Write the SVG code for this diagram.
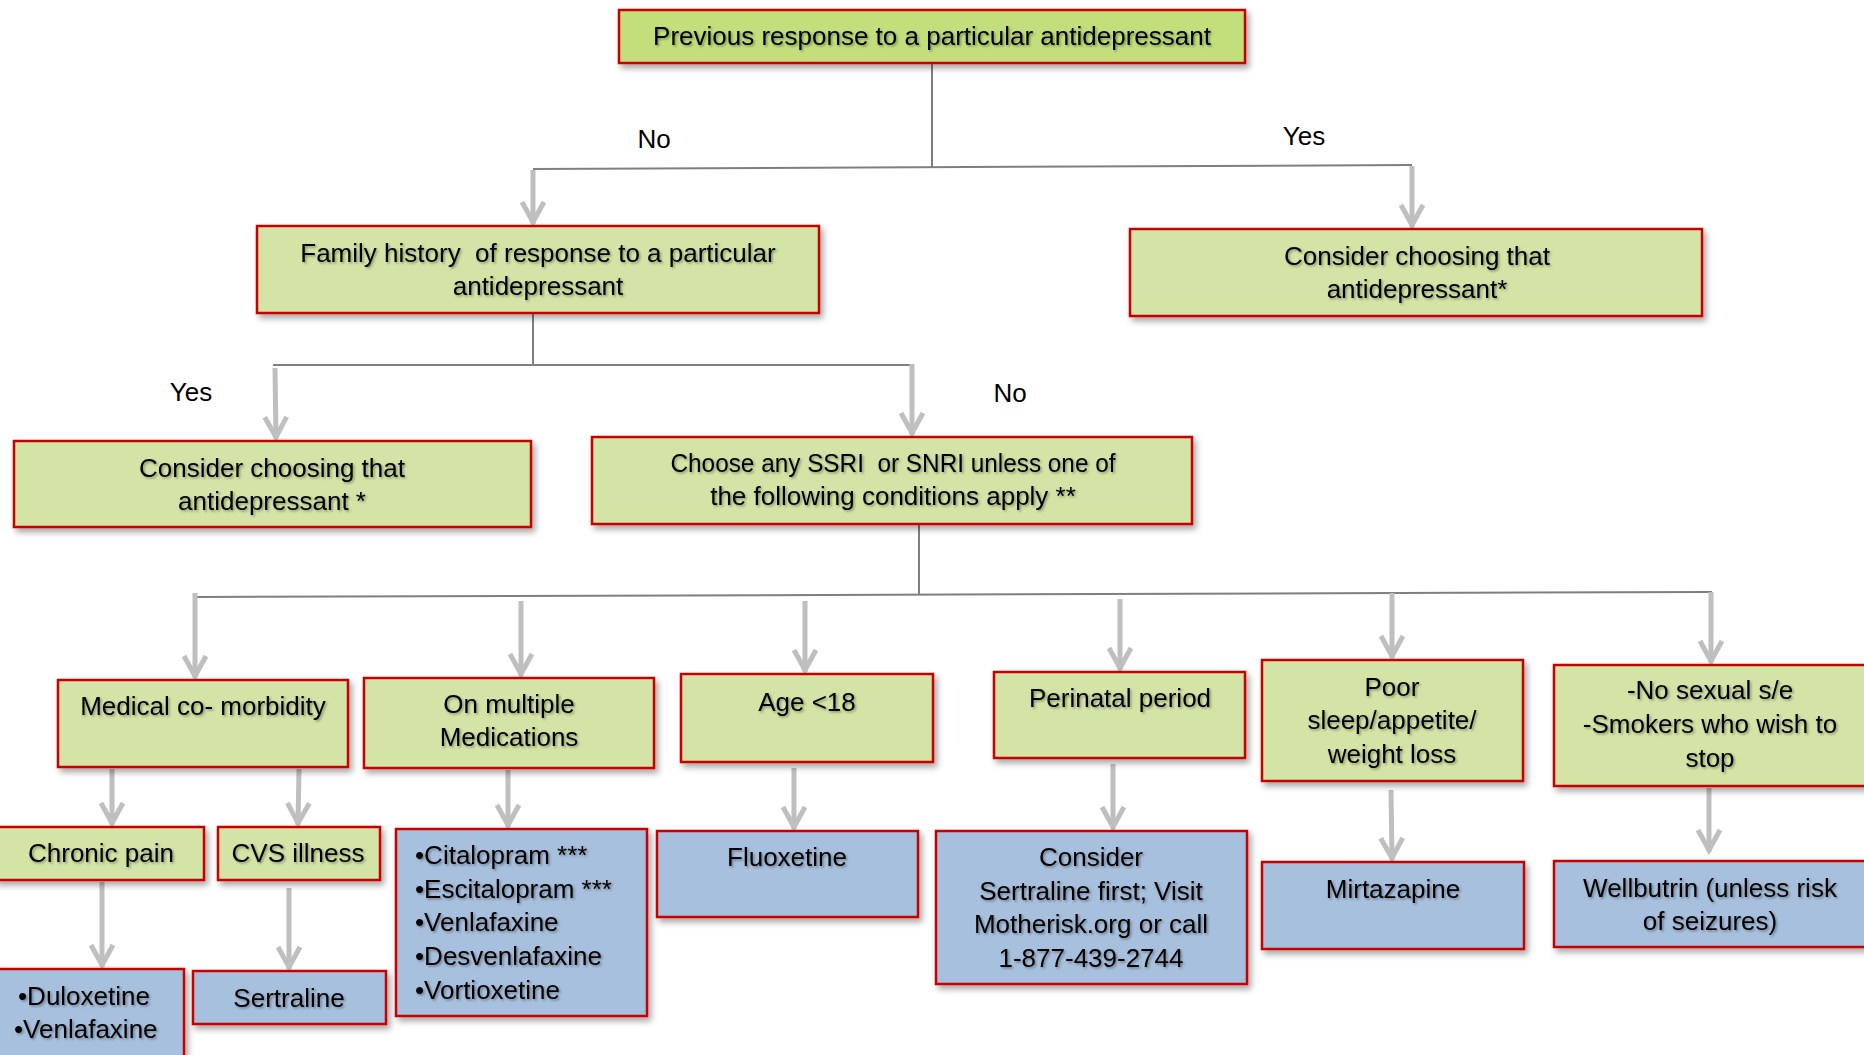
<svg xmlns="http://www.w3.org/2000/svg" width="1864" height="1055" viewBox="0 0 1864 1055">
  <defs>
    <filter id="boxShadow" x="-5%" y="-10%" width="115%" height="130%">
      <feDropShadow dx="3" dy="4" stdDeviation="3" flood-color="#000" flood-opacity="0.35"/>
    </filter>
    <filter id="txtShadow" x="-5%" y="-20%" width="110%" height="150%">
      <feDropShadow dx="1.5" dy="1.5" stdDeviation="1" flood-color="#000" flood-opacity="0.35"/>
    </filter>
    <marker id="head" markerUnits="userSpaceOnUse" markerWidth="40" markerHeight="40" viewBox="-30 -20 40 40" refX="0" refY="0" orient="auto" overflow="visible">
      <path d="M-22,-11 L-2,0 L-22,11" fill="none" stroke="#bfbfbf" stroke-width="5"/>
    </marker>
    <style>
      .bx { stroke: #c80000; stroke-width: 2.5; filter: url(#boxShadow); }
      .q { fill: #d3e4a6; }
      .top { fill: #c3df7c; }
      .r { fill: #a7c0dd; }
      .t { font-family: "Liberation Sans", Arial, sans-serif; font-size: 26px; fill: #000; filter: url(#txtShadow); white-space: pre; }
      .c { text-anchor: middle; }
      .lbl { font-family: "Liberation Sans", Arial, sans-serif; font-size: 26px; fill: #000; text-anchor: middle; }
      .ln { stroke: #7f7f7f; stroke-width: 2; fill: none; }
      .ar { stroke: #bfbfbf; stroke-width: 5; fill: none; marker-end: url(#head); }
    </style>
  </defs>

  <rect width="1864" height="1055" fill="#fff"/>

  <!-- connectors -->
  <g id="connectors">
    <line class="ln" x1="932" y1="63" x2="932" y2="168"/>
    <line class="ln" x1="533" y1="169" x2="1412" y2="165"/>
    <line class="ar" x1="533" y1="170" x2="533" y2="224"/>
    <line class="ar" x1="1412" y1="166" x2="1412" y2="227"/>

    <line class="ln" x1="533" y1="313" x2="533" y2="365"/>
    <line class="ln" x1="273" y1="365" x2="912" y2="365"/>
    <line class="ar" x1="275" y1="368" x2="276" y2="439"/>
    <line class="ar" x1="912" y1="364" x2="912" y2="435"/>

    <line class="ln" x1="919" y1="524" x2="919" y2="595"/>
    <line class="ln" x1="196" y1="597" x2="1712" y2="592"/>
    <line class="ar" x1="195" y1="593" x2="195" y2="678"/>
    <line class="ar" x1="521" y1="601" x2="521" y2="676"/>
    <line class="ar" x1="805" y1="601" x2="805" y2="672"/>
    <line class="ar" x1="1120" y1="599" x2="1120" y2="670"/>
    <line class="ar" x1="1392" y1="593" x2="1392" y2="658"/>
    <line class="ar" x1="1711" y1="592" x2="1711" y2="663"/>

    <line class="ar" x1="112" y1="769" x2="112" y2="825"/>
    <line class="ar" x1="299" y1="769" x2="298" y2="825"/>
    <line class="ar" x1="508" y1="770" x2="508" y2="827"/>
    <line class="ar" x1="794" y1="768" x2="794" y2="829"/>
    <line class="ar" x1="1113" y1="764" x2="1113" y2="829"/>
    <line class="ar" x1="1391" y1="790" x2="1392" y2="860"/>
    <line class="ar" x1="1709" y1="788" x2="1709" y2="852"/>

    <line class="ar" x1="102" y1="882" x2="102" y2="967"/>
    <line class="ar" x1="289" y1="888" x2="289" y2="969"/>
  </g>

  <!-- branch labels -->
  <g id="labels">
    <text class="lbl" x="654" y="148">No</text>
    <text class="lbl" x="1304" y="145">Yes</text>
    <text class="lbl" x="191" y="401">Yes</text>
    <text class="lbl" x="1010" y="402">No</text>
  </g>

  <g id="n-previous">
    <rect class="bx top" x="619" y="10" width="626" height="53"/>
    <text class="t c" x="932" y="45">Previous response to a particular antidepressant</text>
  </g>

  <g id="n-family">
    <rect class="bx q" x="257" y="226" width="562" height="87"/>
    <text class="t c" x="538" y="262" xml:space="preserve">Family history  of response to a particular</text>
    <text class="t c" x="538" y="295">antidepressant</text>
  </g>

  <g id="n-consider-right">
    <rect class="bx q" x="1130" y="229" width="572" height="87"/>
    <text class="t c" x="1417" y="265">Consider choosing that</text>
    <text class="t c" x="1417" y="298">antidepressant*</text>
  </g>

  <g id="n-consider-left">
    <rect class="bx q" x="14" y="441" width="517" height="86"/>
    <text class="t c" x="272" y="477">Consider choosing that</text>
    <text class="t c" x="272" y="510">antidepressant *</text>
  </g>

  <g id="n-choose">
    <rect class="bx q" x="592" y="437" width="600" height="87"/>
    <text class="t c" x="893" y="472" xml:space="preserve" textLength="445" lengthAdjust="spacingAndGlyphs">Choose any SSRI  or SNRI unless one of</text>
    <text class="t c" x="893" y="505">the following conditions apply **</text>
  </g>

  <g id="n-medical">
    <rect class="bx q" x="58" y="680" width="290" height="87"/>
    <text class="t c" x="203" y="715">Medical co- morbidity</text>
  </g>

  <g id="n-multiple">
    <rect class="bx q" x="364" y="678" width="290" height="90"/>
    <text class="t c" x="509" y="713">On multiple</text>
    <text class="t c" x="509" y="746">Medications</text>
  </g>

  <g id="n-age">
    <rect class="bx q" x="681" y="674" width="252" height="88"/>
    <text class="t c" x="807" y="711">Age &lt;18</text>
  </g>

  <g id="n-perinatal">
    <rect class="bx q" x="994" y="672" width="251" height="86"/>
    <text class="t c" x="1120" y="707">Perinatal period</text>
  </g>

  <g id="n-sleep">
    <rect class="bx q" x="1262" y="660" width="261" height="121"/>
    <text class="t c" x="1392" y="696">Poor</text>
    <text class="t c" x="1392" y="729">sleep/appetite/</text>
    <text class="t c" x="1392" y="763">weight loss</text>
  </g>

  <g id="n-sexual">
    <rect class="bx q" x="1554" y="665" width="320" height="121"/>
    <text class="t c" x="1710" y="699">-No sexual s/e</text>
    <text class="t c" x="1710" y="733">-Smokers who wish to</text>
    <text class="t c" x="1710" y="767">stop</text>
  </g>

  <g id="n-chronic">
    <rect class="bx q" x="-5" y="827" width="209" height="53"/>
    <text class="t c" x="101" y="862">Chronic pain</text>
  </g>

  <g id="n-cvs">
    <rect class="bx q" x="218" y="827" width="162" height="53"/>
    <text class="t c" x="298" y="862">CVS illness</text>
  </g>

  <g id="n-duloxetine">
    <rect class="bx r" x="-5" y="969" width="189" height="100"/>
    <text class="t" x="18" y="1005">•Duloxetine</text>
    <text class="t" x="14" y="1038">•Venlafaxine</text>
  </g>

  <g id="n-sertraline">
    <rect class="bx r" x="193" y="971" width="193" height="53"/>
    <text class="t c" x="289" y="1007">Sertraline</text>
  </g>

  <g id="n-citalopram">
    <rect class="bx r" x="396" y="829" width="251" height="187"/>
    <text class="t" x="415" y="864">•Citalopram ***</text>
    <text class="t" x="415" y="898">•Escitalopram ***</text>
    <text class="t" x="415" y="931">•Venlafaxine</text>
    <text class="t" x="415" y="965">•Desvenlafaxine</text>
    <text class="t" x="415" y="999">•Vortioxetine</text>
  </g>

  <g id="n-fluoxetine">
    <rect class="bx r" x="657" y="831" width="261" height="86"/>
    <text class="t c" x="787" y="866">Fluoxetine</text>
  </g>

  <g id="n-motherisk">
    <rect class="bx r" x="936" y="831" width="311" height="153"/>
    <text class="t c" x="1091" y="866">Consider</text>
    <text class="t c" x="1091" y="900">Sertraline first; Visit</text>
    <text class="t c" x="1091" y="933">Motherisk.org or call</text>
    <text class="t c" x="1091" y="967">1-877-439-2744</text>
  </g>

  <g id="n-mirtazapine">
    <rect class="bx r" x="1262" y="862" width="262" height="87"/>
    <text class="t c" x="1393" y="898">Mirtazapine</text>
  </g>

  <g id="n-wellbutrin">
    <rect class="bx r" x="1554" y="861" width="320" height="86"/>
    <text class="t c" x="1710" y="897">Wellbutrin (unless risk</text>
    <text class="t c" x="1710" y="930">of seizures)</text>
  </g>
</svg>
